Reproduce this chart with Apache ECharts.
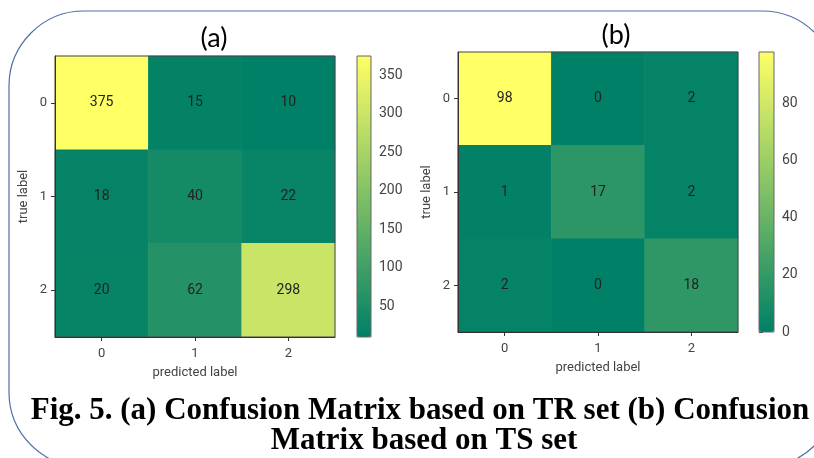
<!DOCTYPE html>
<html>
<head>
<meta charset="utf-8">
<script src="https://cdn.jsdelivr.net/npm/echarts@6/dist/echarts.min.js"></script>
<style>
html,body{margin:0;padding:0;background:#fff;}
#chart{width:814px;height:458px;}
</style>
</head>
<body>
<div id="chart"></div>
<script>
// ---- data ----
var classLabels = ['0', '1', '2'];
var matrixTR = [
  [375, 15, 10],
  [18, 40, 22],
  [20, 62, 298]
];
var matrixTS = [
  [98, 0, 2],
  [1, 17, 2],
  [2, 0, 18]
];
var rangeTR = [10, 375];
var rangeTS = [0, 98];
var ticksTR = [50, 100, 150, 200, 250, 300, 350];
var ticksTS = [0, 20, 40, 60, 80];
var titleA = '(a)';
var titleB = '(b)';
var xName = 'predicted label';
var yName = 'true label';
var captionLine1 = 'Fig. 5. (a) Confusion Matrix based on TR set (b) Confusion';
var captionLine2 = 'Matrix based on TS set';

function toCells(m) {
  var out = [];
  for (var r = 0; r < m.length; r++) {
    for (var c = 0; c < m[r].length; c++) {
      out.push([c, r, m[r][c]]);
    }
  }
  return out;
}

var summer = ['#008066', '#ffff66'];
var axisColor = '#333';
var FONT = 'Roboto';
var tickFont = {color: '#444', fontSize: 13, fontFamily: FONT};

function mainX(gi) {
  return {
    type: 'category', gridIndex: gi, data: classLabels, position: 'bottom',
    name: xName, nameLocation: 'middle', nameGap: 29,
    nameTextStyle: {color: '#444', fontSize: 13, fontFamily: FONT},
    axisLine: {show: true, lineStyle: {color: axisColor}},
    axisTick: {show: true, alignWithLabel: true, length: 4, lineStyle: {color: axisColor}},
    axisLabel: Object.assign({margin: 10}, tickFont),
    splitLine: {show: false}, splitArea: {show: false}, z: 3
  };
}
function mainY(gi) {
  return {
    type: 'category', gridIndex: gi, data: classLabels, inverse: true, position: 'left',
    name: yName, nameLocation: 'middle', nameGap: 25, nameRotate: 90,
    nameTextStyle: {color: '#444', fontSize: 13, fontFamily: FONT},
    axisLine: {show: true, lineStyle: {color: axisColor}},
    axisTick: {show: true, alignWithLabel: true, length: 4, lineStyle: {color: axisColor}},
    axisLabel: Object.assign({margin: 8}, tickFont),
    splitLine: {show: false}, splitArea: {show: false}, z: 3
  };
}
function cbarY(gi, rng, ticks) {
  return {
    type: 'value', gridIndex: gi, min: rng[0], max: rng[1], position: 'right',
    axisLine: {show: false},
    axisTick: {show: true, length: 4, customValues: ticks, lineStyle: {color: axisColor}},
    axisLabel: Object.assign({margin: 8, customValues: ticks}, tickFont, {fontSize: 14}),
    splitLine: {show: false}
  };
}
function cbarX(gi) {
  return {type: 'value', gridIndex: gi, show: false, min: 0, max: 1};
}

var option = {
  backgroundColor: '#fff',
  animation: false,
  title: [
    {text: titleA, left: 209, top: 20, textAlign: 'center',
     textStyle: {fontFamily: 'Lato', fontWeight: 'normal', fontSize: 27, color: '#000'}},
    {text: titleB, left: 611, top: 17, textAlign: 'center',
     textStyle: {fontFamily: 'Lato', fontWeight: 'normal', fontSize: 27, color: '#000'}}
  ],
  grid: [
    {left: 55, top: 56, width: 280, height: 281, show: true, borderColor: '#444', borderWidth: 1, backgroundColor: 'transparent', z: 3},
    {left: 458, top: 52, width: 280, height: 280, show: true, borderColor: '#444', borderWidth: 1, backgroundColor: 'transparent', z: 3},
    {left: 357, top: 56, width: 14, height: 281, show: true, borderColor: '#666', borderWidth: 1, backgroundColor: 'transparent', z: 10},
    {left: 759, top: 52, width: 15, height: 280, show: true, borderColor: '#666', borderWidth: 1, backgroundColor: 'transparent', z: 10}
  ],
  xAxis: [mainX(0), mainX(1), cbarX(2), cbarX(3)],
  yAxis: [mainY(0), mainY(1), cbarY(2, rangeTR, ticksTR), cbarY(3, rangeTS, ticksTS)],
  visualMap: [
    {type: 'continuous', seriesIndex: 0, min: rangeTR[0], max: rangeTR[1], calculable: false,
     inRange: {color: summer}, left: 357, top: 56, itemWidth: 14, itemHeight: 281, padding: 0,
     text: null, showLabel: false, orient: 'vertical', hoverLink: false},
    {type: 'continuous', seriesIndex: 1, min: rangeTS[0], max: rangeTS[1], calculable: false,
     inRange: {color: summer}, left: 759, top: 52, itemWidth: 15, itemHeight: 280, padding: 0,
     text: null, showLabel: false, orient: 'vertical', hoverLink: false}
  ],
  series: [
    {type: 'heatmap', xAxisIndex: 0, yAxisIndex: 0, data: toCells(matrixTR),
     label: {show: true, color: '#222', fontSize: 14, fontFamily: FONT},
     itemStyle: {borderWidth: 0}},
    {type: 'heatmap', xAxisIndex: 1, yAxisIndex: 1, data: toCells(matrixTS),
     label: {show: true, color: '#222', fontSize: 14, fontFamily: FONT},
     itemStyle: {borderWidth: 0}}
  ],
  graphic: [
    {type: 'rect', z: -10, silent: true,
     shape: {x: 9, y: 11, width: 828, height: 456, r: 75},
     style: {fill: 'none', stroke: '#4f6fa8', lineWidth: 1.2}},
    {type: 'text', x: 420, y: 411, z: 20,
     style: {text: captionLine1, font: 'bold 31px "Liberation Serif"', textAlign: 'center', textVerticalAlign: 'middle', fill: '#000'}},
    {type: 'text', x: 424, y: 441, z: 20,
     style: {text: captionLine2, font: 'bold 31px "Liberation Serif"', textAlign: 'center', textVerticalAlign: 'middle', fill: '#000'}}
  ]
};

var chart = echarts.init(document.getElementById('chart'), null, {renderer: 'canvas'});
chart.setOption(option);
</script>
</body>
</html>
